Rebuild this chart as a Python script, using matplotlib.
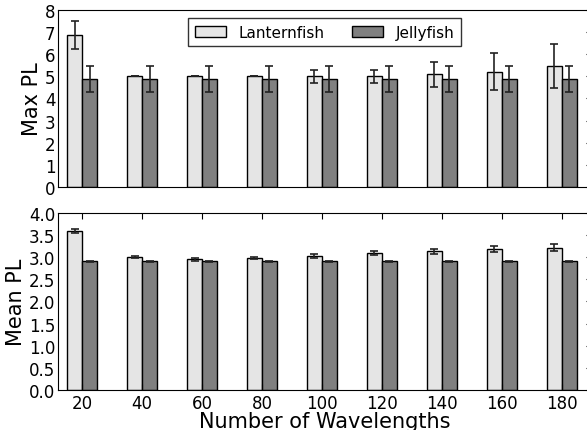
import matplotlib
matplotlib.use('Agg')
import matplotlib.pyplot as plt
import numpy as np

wavelengths = [20, 40, 60, 80, 100, 120, 140, 160, 180]

# max path length
maxLantern = [6.88, 5.0, 5.0, 5.0, 5.0, 5.0, 5.09, 5.22, 5.46]
maxLanternErr = [0.64, 0.0, 0.0, 0.0, 0.28, 0.28, 0.57, 0.82, 0.99]
maxJelly = [4.9, 4.9, 4.9, 4.9, 4.9, 4.9, 4.9, 4.9, 4.9]
maxJellyErr = [0.59, 0.59, 0.59, 0.59, 0.59, 0.59, 0.59, 0.59, 0.59]

# mean path length
meanLantern = [3.59, 3.01, 2.95, 2.98, 3.03, 3.09, 3.13, 3.18, 3.22]
meanLanternErr = [0.05, 0.02, 0.03, 0.03, 0.04, 0.05, 0.06, 0.07, 0.08]
meanJelly = [2.91, 2.91, 2.91, 2.91, 2.91, 2.91, 2.91, 2.91, 2.91]
meanJellyErr = [0.015, 0.015, 0.015, 0.015, 0.015, 0.015, 0.015, 0.015, 0.015]

barWidth = 5
lightColor = '#e5e5e5'
darkColor = '#808080'
errStyle = dict(ecolor='#222222', capsize=3, elinewidth=1.2, capthick=1.2)

fig = plt.figure(figsize=(5.87, 4.31), dpi=100)
axTop = fig.add_axes([0.099, 0.5638, 0.909, 0.4107])
axBot = fig.add_axes([0.099, 0.0928, 0.909, 0.4107])

x = np.array(wavelengths)

axTop.bar(x - barWidth, maxLantern, barWidth, align='edge', color=lightColor, edgecolor='black',
          yerr=maxLanternErr, error_kw=errStyle, label='Lanternfish')
axTop.bar(x, maxJelly, barWidth, align='edge', color=darkColor, edgecolor='black',
          yerr=maxJellyErr, error_kw=errStyle, label='Jellyfish')
axTop.set_ylim(0, 8)
axTop.set_yticks(np.arange(0, 9, 1))
axTop.set_xlim(12, 190)
axTop.set_xticks([])
axTop.set_ylabel('Max PL', fontsize=15, labelpad=2)
axTop.legend(loc='upper center', ncol=2, fontsize=11, fancybox=False, edgecolor='black',
             columnspacing=1.8, handlelength=2.0, handletextpad=0.85, borderpad=0.45)

axBot.bar(x - barWidth, meanLantern, barWidth, align='edge', color=lightColor, edgecolor='black',
          yerr=meanLanternErr, error_kw=errStyle)
axBot.bar(x, meanJelly, barWidth, align='edge', color=darkColor, edgecolor='black',
          yerr=meanJellyErr, error_kw=errStyle)
axBot.set_ylim(0, 4)
axBot.set_xlim(12, 190)
axBot.set_xticks(wavelengths)
axBot.set_yticks(np.arange(0, 4.01, 0.5))
axBot.set_yticklabels(['%.1f' % v for v in np.arange(0, 4.01, 0.5)])
axBot.set_ylabel('Mean PL', fontsize=15, labelpad=2)
axBot.set_xlabel('Number of Wavelengths', fontsize=15, labelpad=-1)

for ax in [axTop, axBot]:
    ax.tick_params(axis='both', labelsize=12, direction='in')
    ax.tick_params(axis='y', left=False, right=True, labelleft=True, labelright=False,
                   length=4, pad=2)
    ax.tick_params(axis='x', top=True, labeltop=False, length=4, pad=3)
    ax.set_axisbelow(False)

fig.savefig('out.png', dpi=100)
